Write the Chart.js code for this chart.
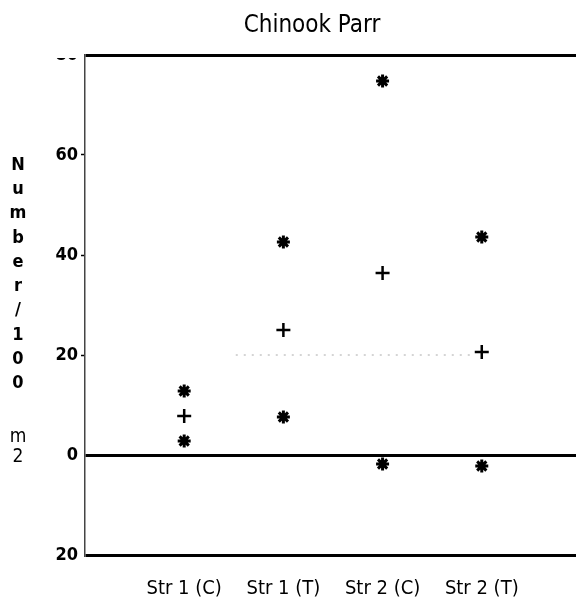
<!DOCTYPE html>
<html>
<head>
<meta charset="utf-8">
<title>Chinook Parr</title>
<script src="https://cdn.jsdelivr.net/npm/chart.js@4.4.1/dist/chart.umd.min.js"></script>
<style>
  body { margin: 0; background: #fff; }
  canvas { display: block; }
</style>
</head>
<body>
<canvas id="grafico" width="576" height="606"></canvas>
<script>
const categorias = ['Str 1 (C)', 'Str 1 (T)', 'Str 2 (C)', 'Str 2 (T)'];
const posiciones = [1, 2, 3, 4];
const superior = [12.8, 42.6, 74.8, 43.6];
const media = [7.8, 25, 36.4, 20.6];
const inferior = [2.8, 7.6, -1.8, -2.2];
const lineaRefX = [1.52, 3.88];
const lineaRefY = [20, 20];
const ticksY = [-20, 0, 20, 40, 60, 80];
const lineasFuertes = [80, 0, -20];

const fuente = '"DejaVu Sans Condensed", "Liberation Sans Narrow", sans-serif';
const etiquetaY = ['N', 'u', 'm', 'b', 'e', 'r', '/', '1', '0', '0'];
const etiquetaUnidad = ['m', '2'];

function puntos(valores) {
  return posiciones.map((x, i) => ({ x: x, y: valores[i] }));
}

// textos que chart.js no sabe colocar asi
const textos = {
  id: 'textos',
  afterDraw(chart) {
    const ctx = chart.ctx;
    const area = chart.chartArea;
    ctx.save();
    // la etiqueta de arriba sale cortada en el original
    ctx.fillStyle = '#fff';
    ctx.fillRect(40, 0, area.left - 43, area.top + 3);

    ctx.fillStyle = '#000';
    ctx.textAlign = 'center';
    ctx.textBaseline = 'middle';
    ctx.font = '24px ' + fuente;
    ctx.fillText('Chinook Parr', 312, 26);

    ctx.font = 'bold 18px ' + fuente;
    etiquetaY.forEach((letra, i) => {
      ctx.fillText(letra, 18, 165 + i * 24.3);
    });
    ctx.font = '19px ' + fuente;
    etiquetaUnidad.forEach((letra, i) => {
      ctx.fillText(letra, 18, 437 + i * 20);
    });
    ctx.restore();
  }
};

const ctx = document.getElementById('grafico').getContext('2d');
new Chart(ctx, {
  type: 'scatter',
  data: {
    datasets: [
      {
        label: 'Superior',
        data: puntos(superior),
        pointStyle: 'star',
        radius: 6.5,
        borderWidth: 3,
        borderColor: '#000',
        backgroundColor: '#000'
      },
      {
        label: 'Media',
        data: puntos(media),
        pointStyle: 'cross',
        radius: 7,
        borderWidth: 2.5,
        borderColor: '#000',
        backgroundColor: '#000'
      },
      {
        label: 'Inferior',
        data: puntos(inferior),
        pointStyle: 'star',
        radius: 6.5,
        borderWidth: 3,
        borderColor: '#000',
        backgroundColor: '#000'
      },
      {
        type: 'line',
        label: 'Referencia',
        data: lineaRefX.map((x, i) => ({ x: x, y: lineaRefY[i] })),
        borderColor: '#aaa',
        borderWidth: 1,
        borderDash: [2, 6],
        pointRadius: 0
      }
    ]
  },
  options: {
    responsive: false,
    animation: false,
    devicePixelRatio: 1,
    layout: { autoPadding: false, padding: { top: 55, right: 0, bottom: 0, left: 0 } },
    plugins: {
      legend: { display: false },
      title: { display: false },
      tooltip: { enabled: false }
    },
    scales: {
      x: {
        type: 'linear',
        min: 0,
        max: 4.95,
        afterBuildTicks: s => { s.ticks = posiciones.map(v => ({ value: v })); },
        afterFit: s => {
          s.height = 51;
          s.paddingRight = 0;
          s.paddingLeft = 0;
        },
        grid: { display: false },
        border: { display: false },
        ticks: {
          autoSkip: false,
          maxRotation: 0,
          padding: 14,
          color: '#000',
          font: { family: fuente, size: 20 },
          callback: v => categorias[v - 1]
        }
      },
      y: {
        min: -20,
        max: 80,
        afterBuildTicks: s => { s.ticks = ticksY.map(v => ({ value: v })); },
        afterFit: s => { s.width = 85; },
        border: { color: '#444', width: 1.5 },
        grid: {
          color: c => lineasFuertes.includes(c.tick.value) ? '#000' : 'rgba(0,0,0,0)',
          lineWidth: 3,
          tickLength: 4,
          tickWidth: 1.5,
          tickColor: c => lineasFuertes.includes(c.tick.value) ? 'rgba(0,0,0,0)' : '#000'
        },
        ticks: {
          padding: 3,
          color: '#000',
          font: { family: fuente, size: 18, weight: 'bold' },
          callback: v => Math.abs(v)
        }
      }
    }
  },
  plugins: [textos]
});
</script>
</body>
</html>
